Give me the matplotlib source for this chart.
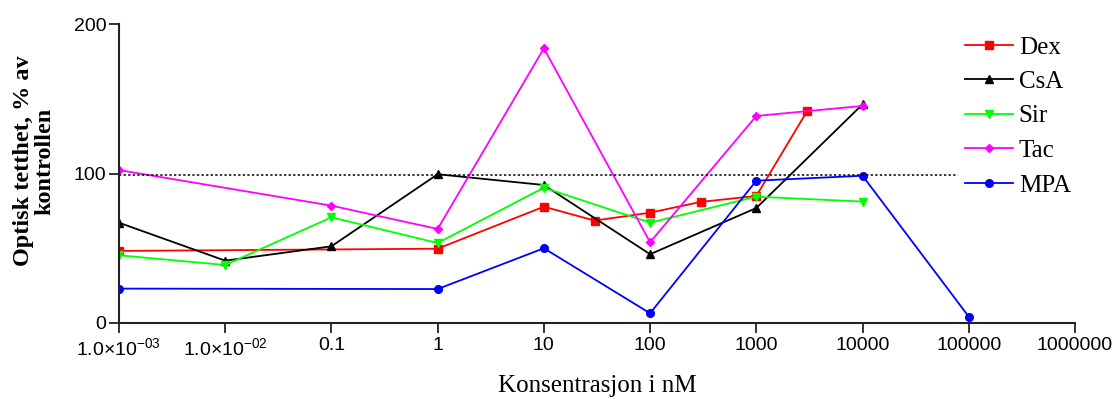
import matplotlib
matplotlib.use("Agg")
import matplotlib.pyplot as plt

# Concentrations (nM) and optical density (% of control) per drug
dex_x = [1e-3, 1, 10, 30, 100, 300, 1000, 3000]
dex_y = [48.2, 49.7, 77.8, 68.5, 73.8, 81, 85, 141.6]

csa_x = [1e-3, 1e-2, 0.1, 1, 10, 100, 1000, 10000]
csa_y = [67.1, 41.7, 51.3, 99.5, 92.3, 46, 76.9, 146.3]

sir_x = [1e-3, 1e-2, 0.1, 1, 10, 100, 1000, 10000]
sir_y = [45.3, 38.8, 70.7, 53.5, 90.5, 67.1, 84.5, 81.2]

tac_x = [1e-3, 0.1, 1, 10, 100, 1000, 10000]
tac_y = [102.3, 78.5, 62.9, 183.7, 54, 138.5, 145.2]

mpa_x = [1e-3, 1, 10, 100, 1000, 10000, 100000]
mpa_y = [23, 22.7, 50.0, 6.5, 95.2, 98.5, 4.2]

control_level = 99
control_x = [1e-3, 8e4]

xtick_vals = [1e-3, 1e-2, 0.1, 1, 10, 100, 1000, 10000, 100000, 1000000]
xtick_labels = ["1.0×10$^{-03}$", "1.0×10$^{-02}$", "0.1", "1", "10", "100",
                "1000", "10000", "100000", "1000000"]

plt.rcParams["mathtext.default"] = "regular"
plt.rcParams["font.family"] = ["Liberation Sans", "DejaVu Sans"]

fig = plt.figure(figsize=(11.19, 3.99), dpi=100)
ax = fig.add_axes([0.1063, 0.1905, 0.8544, 0.7493])

lw = 1.3
ax.plot(dex_x, dex_y, color="#ff0000", marker="s", ms=6, lw=lw, label="Dex")
ax.plot(csa_x, csa_y, color="black", marker="^", ms=6, lw=lw, label="CsA")
ax.plot(sir_x, sir_y, color="#00ff00", marker="v", ms=6, lw=lw, label="Sir")
ax.plot(tac_x, tac_y, color="#ff00ff", marker="D", ms=4, lw=lw, label="Tac")
ax.plot(mpa_x, mpa_y, color="#0000ff", marker="o", ms=5.5, lw=lw, label="MPA")

# dotted control line
ax.plot(control_x, [control_level, control_level], color="black", ls=(0, (1.5, 1.5)), lw=1.1)

ax.set_xscale("log")
ax.set_xlim(1e-3, 1e6)
ax.set_ylim(0, 200)
ax.set_xticks(xtick_vals)
ax.set_xticklabels(xtick_labels)
ax.minorticks_off()
ax.set_yticks([0, 100, 200])

for side in ["top", "right"]:
    ax.spines[side].set_visible(False)
for side in ["left", "bottom"]:
    ax.spines[side].set_linewidth(1.5)
    ax.spines[side].set_color("#222222")
ax.tick_params(axis="both", direction="out", length=7, width=1.3, labelsize=14, color="#222222")
ax.tick_params(axis="x", pad=3)
ax.tick_params(axis="y", pad=2)

ax.set_xlabel("Konsentrasjon i nM", family="Liberation Serif", fontsize=18, labelpad=12)
ax.set_ylabel("Optisk tetthet, % av\nkontrollen", family="Liberation Serif",
              fontsize=17.5, fontweight="bold", linespacing=1.0)
ax.yaxis.set_label_coords(-0.067, 0.542)

leg = ax.legend(loc="upper left", bbox_to_anchor=(965 / 1119, 1 - 36 / 399),
                bbox_transform=fig.transFigure, frameon=False, borderpad=0,
                borderaxespad=0, handlelength=1.9, handletextpad=0.25,
                labelspacing=0.48, prop={"family": "Liberation Serif", "size": 18})

plt.savefig("out.png", dpi=100)
